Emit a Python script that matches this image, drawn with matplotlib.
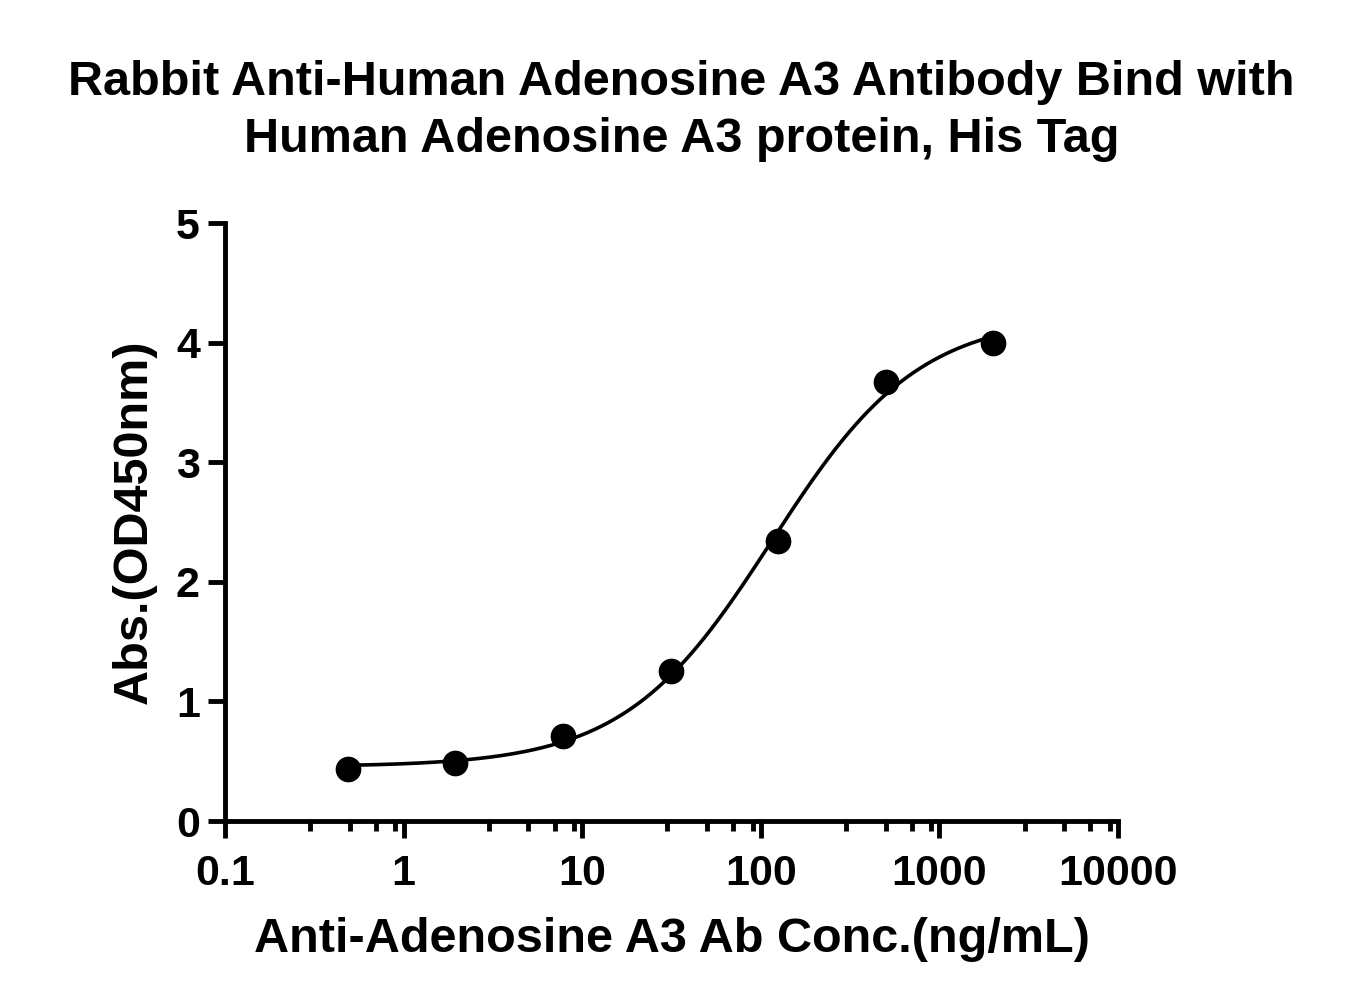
import numpy as np
import matplotlib
matplotlib.use("Agg")
import matplotlib.pyplot as plt
from matplotlib.ticker import FixedLocator, NullFormatter

plt.rcParams['font.family'] = ['Liberation Sans', 'DejaVu Sans']
plt.rcParams['font.weight'] = 'bold'

# data
conc = [0.488, 1.95, 7.8, 31.25, 125, 500, 2000]
od450 = [0.435, 0.485, 0.71, 1.255, 2.34, 3.67, 4.0]
title = "Rabbit Anti-Human Adenosine A3 Antibody Bind with\nHuman Adenosine A3 protein, His Tag"
xlabel = "Anti-Adenosine A3 Ab Conc.(ng/mL)"
ylabel = "Abs.(OD450nm)"

x = np.array(conc, dtype=float)
y = np.array(od450, dtype=float)


# 4PL curve, fitted to the points (Gauss-Newton with damping)
def f4pl(p, xx):
    bot, top, logec, hill = p
    return bot + (top - bot) / (1 + 10 ** ((logec - np.log10(xx)) * hill))


p = np.array([y.min(), y.max(), np.log10(100), 1.0])
lam = 1e-2
for it in range(300):
    r = y - f4pl(p, x)
    J = np.zeros((len(x), 4))
    for k in range(4):
        dp = np.zeros(4)
        dp[k] = 1e-6
        J[:, k] = (f4pl(p + dp, x) - f4pl(p - dp, x)) / 2e-6
    A = J.T @ J
    step = np.linalg.solve(A + lam * np.diag(np.diag(A)), J.T @ r)
    pn = p + step
    if np.sum((y - f4pl(pn, x)) ** 2) < np.sum(r ** 2):
        p = pn
        lam *= 0.5
    else:
        lam *= 4

xs = np.logspace(np.log10(x.min()), np.log10(x.max()), 300)

fig = plt.figure(figsize=(13.47, 10.05), dpi=100)
ax = fig.add_axes([0.167, 0.183, 0.663, 0.595])

ax.plot(xs, f4pl(p, xs), color='black', lw=2.6, zorder=2)
ax.plot(x, y, 'o', color='black', ms=17.5, zorder=3, clip_on=False)

ax.set_xscale('log')
ax.set_xlim(0.1, 10000)
ax.set_ylim(0, 5)
ax.set_yticks([0, 1, 2, 3, 4, 5])
ax.xaxis.set_major_locator(FixedLocator([0.1, 1, 10, 100, 1000, 10000]))
ax.set_xticklabels(['0.1', '1', '10', '100', '1000', '10000'])
minors = [m * 10.0 ** d for d in range(-1, 4) for m in (3, 5, 7, 9)]
ax.xaxis.set_minor_locator(FixedLocator(minors))
ax.xaxis.set_minor_formatter(NullFormatter())

for s in ['top', 'right']:
    ax.spines[s].set_visible(False)
for s in ['left', 'bottom']:
    ax.spines[s].set_linewidth(3.5)

ax.tick_params(axis='both', which='major', direction='out', length=12, width=3.5,
               labelsize=31)
ax.tick_params(axis='x', which='major', pad=12)
ax.tick_params(axis='y', which='major', pad=6)
ax.tick_params(axis='x', which='minor', direction='out', length=7, width=3.5)
ax.tick_params(axis='y', which='minor', left=False)

ax.set_xlabel(xlabel, fontsize=35, fontweight='bold', labelpad=16)
ax.set_ylabel(ylabel, fontsize=35, fontweight='bold', labelpad=14)
fig.suptitle(title, fontsize=35, fontweight='bold', x=0.506, y=0.94, linespacing=1.32)

fig.savefig('out.png', dpi=100)
